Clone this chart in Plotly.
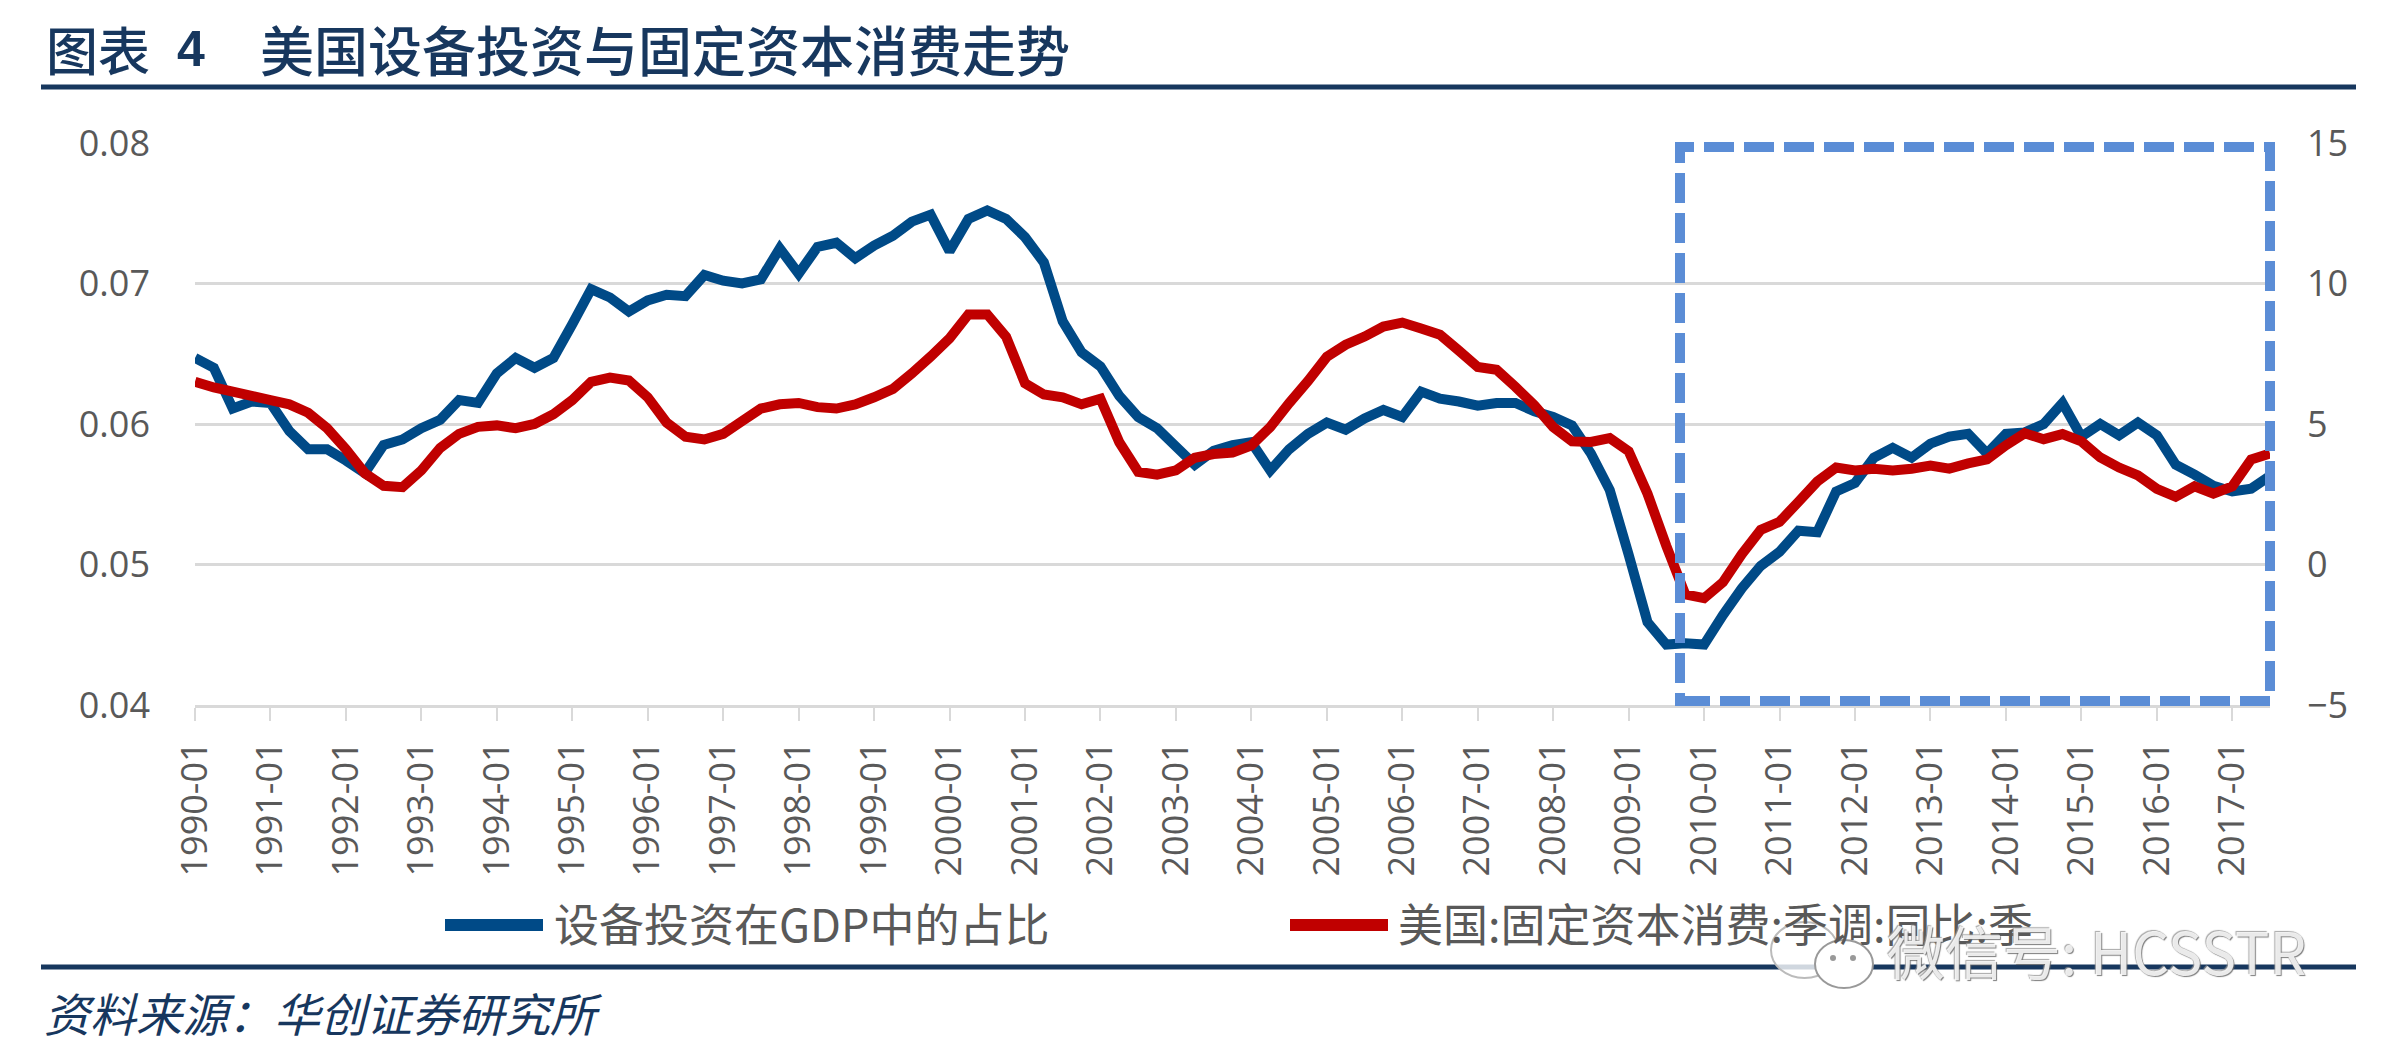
import plotly.graph_objects as go

years = list(range(1990, 2018))
dates = [f"{y}-{m:02d}" for y in years for m in (1, 4, 7, 10)][:111]
tick_labels = [f"{y}-01" for y in years]

equipment_share = [
    .0647,.0640,.0611,.0616,.0615,.0595,.0582,.0582,.0574,.0565,
    .0585,.0589,.0597,.0603,.0617,.0615,.0636,.0647,.0640,.0647,
    .0671,.0696,.0690,.0680,.0688,.0692,.0691,.0706,.0702,.0700,
    .0703,.0725,.0707,.0726,.0729,.0718,.0727,.0734,.0744,.0749,
    .0723,.0746,.0752,.0746,.0733,.0715,.0673,.0651,.0641,.0620,
    .0605,.0597,.0584,.0571,.0581,.0585,.0587,.0567,.0582,.0593,
    .0601,.0596,.0604,.0610,.0605,.0623,.0618,.0616,.0613,.0615,
    .0615,.0609,.0605,.0599,.0579,.0553,.0507,.0459,.0443,.0444,
    .0443,.0464,.0483,.0499,.0509,.0524,.0523,.0552,.0558,.0576,
    .0583,.0576,.0586,.0591,.0593,.0579,.0593,.0594,.0600,.0615,
    .0591,.0600,.0592,.0601,.0592,.0571,.0564,.0556,.0552,.0554,.0563]

capital_consumption = [
    6.5,6.3,6.15,6.0,5.85,5.7,5.4,4.85,4.1,3.25,
    2.8,2.75,3.35,4.15,4.65,4.9,4.95,4.85,5.0,5.35,
    5.85,6.5,6.65,6.55,5.95,5.05,4.55,4.45,4.65,5.1,
    5.55,5.7,5.75,5.6,5.55,5.7,5.95,6.25,6.8,7.4,
    8.05,8.9,8.9,8.1,6.45,6.05,5.95,5.7,5.9,4.35,
    3.3,3.2,3.35,3.8,3.93,3.98,4.24,4.89,5.74,6.53,
    7.39,7.82,8.11,8.47,8.61,8.40,8.18,7.61,7.03,6.93,
    6.32,5.67,4.89,4.38,4.36,4.5,4.03,2.52,0.66,-1.06,
    -1.2,-0.63,0.37,1.23,1.52,2.23,2.95,3.45,3.35,3.41,
    3.35,3.41,3.52,3.41,3.6,3.74,4.24,4.67,4.46,4.64,
    4.38,3.81,3.45,3.17,2.69,2.41,2.78,2.52,2.78,3.74,3.95]

left_ticks = [0.04, 0.05, 0.06, 0.07, 0.08]
right_ticks = [-5, 0, 5, 10, 15]
series_names = ["设备投资在GDP中的占比", "美国:固定资本消费:季调:同比:季"]
NAVY, GREY, BLUE, RED, DASH, GRID = "#17375E", "#595959", "#004A87", "#C00000", "#5B8DD6", "#D9D9D9"
CJK = "Noto Sans CJK SC"

# page pixels -> paper fractions (the page body adds an 8px margin)
PL, PR, PT, PB = 195, 2270, 143, 705
px = lambda v: (v - PL) / (PR - PL)
py = lambda v: (PB - v) / (PB - PT)

def note(text, x, y, **font):
    return dict(text=text, x=px(x), y=py(y), xref="paper", yref="paper", xanchor="left", yanchor="middle",
                showarrow=False, font=font)

def rule(x0, x1, y, color, width):
    return dict(type="line", xref="paper", yref="paper", x0=px(x0), x1=px(x1), y0=py(y), y1=py(y),
                line=dict(color=color, width=width))

def blob(x0, x1, y0, y1, fill, edge, width=2):
    return dict(type="circle", xref="paper", yref="paper", x0=px(x0), x1=px(x1), y0=py(y0), y1=py(y1),
                fillcolor=fill, line=dict(color=edge, width=width))

fig = go.Figure()
fig.add_scatter(x=dates, y=equipment_share, mode="lines", name=series_names[0], showlegend=False,
                line=dict(color=BLUE, width=10, simplify=False))
fig.add_scatter(x=dates, y=capital_consumption, mode="lines", name=series_names[1], yaxis="y2", showlegend=False,
                line=dict(color=RED, width=10, simplify=False))

fig.update_layout(
    width=2368, height=1041, paper_bgcolor="white", plot_bgcolor="white",
    margin=dict(l=PL - 8, r=2368 + 8 - PR, t=PT - 8, b=1041 + 8 - PB, autoexpand=False),
    font=dict(family="Open Sans", color=GREY),
    xaxis=dict(type="category", categoryorder="array", categoryarray=dates, range=[0, 110],
               tickmode="array", tickvals=tick_labels, ticktext=tick_labels,
               tickangle=-90, tickfont=dict(size=36, color=GREY, family="Open Sans"),
               ticks="outside", ticklen=13, tickwidth=2, tickcolor=GRID, ticklabelstandoff=6,
               showgrid=False, showline=True, linecolor=GRID, linewidth=3, zeroline=False),
    yaxis=dict(range=[0.04, 0.08], tickvals=left_ticks, tickformat=".2f",
               tickfont=dict(size=36, color=GREY), ticks="", ticklabelstandoff=44,
               gridcolor=GRID, gridwidth=3, zeroline=False, showline=False),
    yaxis2=dict(range=[-5, 15], tickvals=right_ticks, overlaying="y", side="right", showgrid=False,
                tickfont=dict(size=36, color=GREY), ticks="", ticklabelstandoff=36,
                zeroline=False, showline=False),
    shapes=[
        dict(type="rect", xref="paper", yref="paper", x0=px(1680), x1=px(2270), y0=py(701), y1=py(147),
             line=dict(color=DASH, width=10, dash="30px,10px")),
        rule(41, 2356, 87, NAVY, 5),
        rule(41, 2356, 967, NAVY, 5),
        rule(445, 543, 925, BLUE, 12),
        rule(1290, 1388, 925, RED, 12),
        # WeChat mark behind the watermark
        blob(1771, 1838, 922, 978, "rgba(255,255,255,0.8)", "#BBBBBB"),
        blob(1815, 1873, 940, 988, "white", "#999999"),
        blob(1830, 1836, 955, 961, "#999999", "#999999", 0),
        blob(1850, 1856, 955, 961, "#999999", "#999999", 0),
    ],
    annotations=[
        note("图表", 44, 49, size=52, color=NAVY, family=CJK, weight=500),
        note("4", 175, 49, size=50, color=NAVY, family="Liberation Sans", weight=700),
        note("美国设备投资与固定资本消费走势", 258, 49, size=54, color=NAVY, family=CJK, weight=500),
        note("<i>资料来源：华创证券研究所</i>", 42, 1012, size=46, color=NAVY, family=CJK),
        note(series_names[0], 552, 922, size=45, color=GREY, family=CJK),
        note(series_names[1], 1396, 922, size=45, color=GREY, family=CJK),
        note("微信号: HCSSTR", 1885, 950, size=58, color="rgba(255,255,255,0.85)", family=CJK,
             shadow="1px 1px 1px #666, -1px -1px 1px #999"),
    ],
)
fig.write_html("out.html")
